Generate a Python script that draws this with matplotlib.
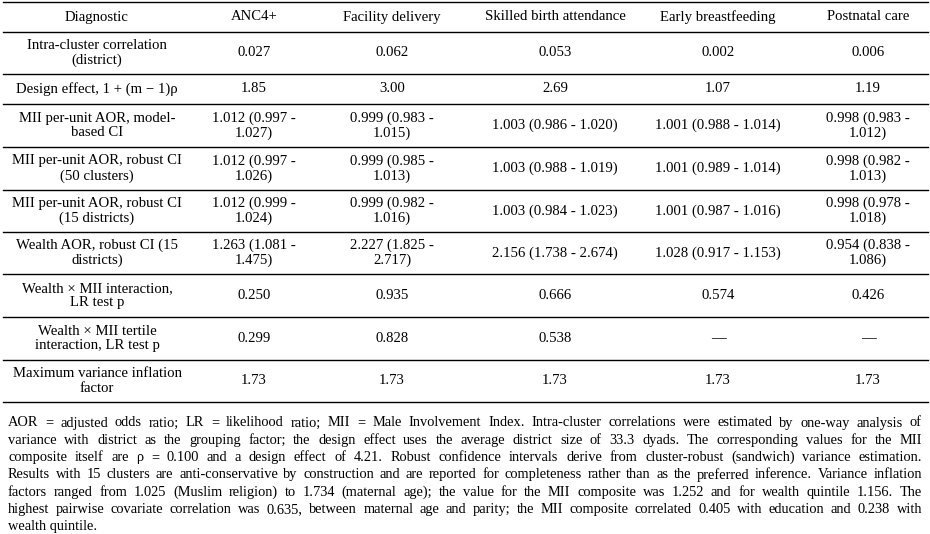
import matplotlib
matplotlib.use('Agg')
import matplotlib.pyplot as plt

plt.rcParams['font.family'] = ['Liberation Serif', 'DejaVu Serif']

columns = ['Diagnostic', 'ANC4+', 'Facility delivery', 'Skilled birth attendance',
           'Early breastfeeding', 'Postnatal care']
row_labels = [
    'Intra-cluster correlation\n(district)',
    'Design effect, 1 + (m \u2212 1)\u03c1',
    'MII per-unit AOR, model-\nbased CI',
    'MII per-unit AOR, robust CI\n(50 clusters)',
    'MII per-unit AOR, robust CI\n(15 districts)',
    'Wealth AOR, robust CI (15\ndistricts)',
    'Wealth \u00d7 MII interaction,\nLR test p',
    'Wealth \u00d7 MII tertile\ninteraction, LR test p',
    'Maximum variance inflation\nfactor',
]
anc4 = ['0.027', '1.85', '1.012 (0.997 -\n1.027)', '1.012 (0.997 -\n1.026)', '1.012 (0.999 -\n1.024)',
        '1.263 (1.081 -\n1.475)', '0.250', '0.299', '1.73']
facility = ['0.062', '3.00', '0.999 (0.983 -\n1.015)', '0.999 (0.985 -\n1.013)', '0.999 (0.982 -\n1.016)',
            '2.227 (1.825 -\n2.717)', '0.935', '0.828', '1.73']
skilled = ['0.053', '2.69', '1.003 (0.986 - 1.020)', '1.003 (0.988 - 1.019)', '1.003 (0.984 - 1.023)',
           '2.156 (1.738 - 2.674)', '0.666', '0.538', '1.73']
breastfeeding = ['0.002', '1.07', '1.001 (0.988 - 1.014)', '1.001 (0.989 - 1.014)', '1.001 (0.987 - 1.016)',
                 '1.028 (0.917 - 1.153)', '0.574', '\u2014', '1.73']
postnatal = ['0.006', '1.19', '0.998 (0.983 -\n1.012)', '0.998 (0.982 -\n1.013)', '0.998 (0.978 -\n1.018)',
             '0.954 (0.838 -\n1.086)', '0.426', '\u2014', '1.73']

footnote = [
    "AOR = adjusted odds ratio; LR = likelihood ratio; MII = Male Involvement Index. Intra-cluster correlations were estimated by one-way analysis of",
    "variance with district as the grouping factor; the design effect uses the average district size of 33.3 dyads. The corresponding values for the MII",
    "composite itself are \u03c1 = 0.100 and a design effect of 4.21. Robust confidence intervals derive from cluster-robust (sandwich) variance estimation.",
    "Results with 15 clusters are anti-conservative by construction and are reported for completeness rather than as the preferred inference. Variance inflation",
    "factors ranged from 1.025 (Muslim religion) to 1.734 (maternal age); the value for the MII composite was 1.252 and for wealth quintile 1.156. The",
    "highest pairwise covariate correlation was 0.635, between maternal age and parity; the MII composite correlated 0.405 with education and 0.238 with",
    "wealth quintile.",
]

W, H = 930, 534
fig = plt.figure(figsize=(W / 100, H / 100), dpi=100)
ax = fig.add_axes([0, 0, 1, 1])
ax.set_xlim(0, W)
ax.set_ylim(H, 0)
ax.axis('off')

fs = 10.6
fs_note = 10.4
col_x = [97, 254, 392, 555, 718, 868]
row_lines = [2, 32, 74, 104, 147, 190, 232, 274, 317, 360, 402]

for y in row_lines:
    ax.plot([3, 928], [y, y], color='black', lw=1.0)

for x, c in zip(col_x, columns):
    ax.text(x, 17, c, ha='center', va='center', fontsize=fs)

data_cols = [row_labels, anc4, facility, skilled, breastfeeding, postnatal]
for i in range(len(row_labels)):
    yc = (row_lines[i + 1] + row_lines[i + 2]) / 2
    for x, col in zip(col_x, data_cols):
        ax.text(x, yc, col[i], ha='center', va='center', fontsize=fs, linespacing=1.15)

# justified footnote
fig.canvas.draw()
renderer = fig.canvas.get_renderer()
inv = ax.transData.inverted()
x0, x1 = 8, 922
for k, line in enumerate(footnote):
    y = 423 + k * 17.3
    if k == len(footnote) - 1:
        ax.text(x0, y, line, ha='left', va='center', fontsize=fs_note)
        continue
    words = line.split(' ')
    arts = [ax.text(0, y, w, ha='left', va='center', fontsize=fs_note) for w in words]
    widths = []
    for a in arts:
        bb = a.get_window_extent(renderer)
        widths.append(inv.transform((bb.x1, bb.y0))[0] - inv.transform((bb.x0, bb.y0))[0])
    gap = (x1 - x0 - sum(widths)) / (len(words) - 1)
    if gap < 1.5:
        # line too long at this size: squeeze the font a little
        for a in arts:
            a.remove()
        ax.text(x0, y, line, ha='left', va='center', fontsize=fs_note * 0.97)
        continue
    x = x0
    for a, w in zip(arts, widths):
        a.set_x(x)
        x += w + gap

fig.savefig('out.png', dpi=100)
